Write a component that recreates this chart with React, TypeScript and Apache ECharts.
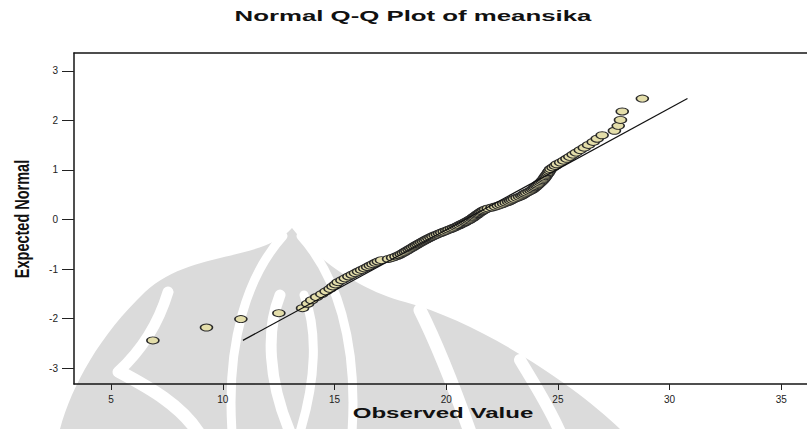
import React, { useEffect, useRef } from "react";
import * as echarts from "echarts";

const observedValues = [
  6.87, 9.27, 10.81, 12.51, 13.57, 13.8, 13.98, 14.2, 14.43, 14.62,
  14.8, 14.93, 15.05, 15.16, 15.33, 15.48, 15.64, 15.79, 15.93, 16.07,
  16.21, 16.35, 16.48, 16.6, 16.72, 16.84, 16.96, 17.1, 17.42, 17.6,
  17.75, 17.88, 17.98, 18.07, 18.16, 18.24, 18.33, 18.41, 18.49, 18.57,
  18.65, 18.73, 18.81, 18.89, 18.97, 19.05, 19.13, 19.22, 19.31, 19.4,
  19.5, 19.6, 19.7, 19.8, 19.91, 20.02, 20.12, 20.23, 20.33, 20.43,
  20.52, 20.6, 20.69, 20.77, 20.85, 20.92, 21.0, 21.07, 21.14, 21.2,
  21.25, 21.31, 21.37, 21.42, 21.48, 21.54, 21.6, 21.68, 21.76, 21.88,
  22.05, 22.2, 22.33, 22.45, 22.57, 22.68, 22.79, 22.88, 22.96, 23.05,
  23.17, 23.28, 23.38, 23.45, 23.52, 23.6, 23.7, 23.79, 23.87, 23.93,
  23.99, 24.05, 24.1, 24.16, 24.22, 24.28, 24.33, 24.38, 24.42, 24.46,
  24.5, 24.55, 24.59, 24.63, 24.68, 24.78, 24.88, 24.96, 25.12, 25.26,
  25.4, 25.53, 25.68, 25.82, 26.0, 26.18, 26.37, 26.58, 26.76, 26.98,
  27.53, 27.7, 27.8, 27.88, 28.78,
];

// Expected normal values
const expectedNormal = [
  -2.44, -2.18, -2.01, -1.89, -1.79, -1.7, -1.63, -1.565, -1.505, -1.45,
  -1.4, -1.35, -1.31, -1.265, -1.225, -1.187, -1.15, -1.115, -1.082, -1.05,
  -1.018, -0.987, -0.958, -0.929, -0.901, -0.874, -0.847, -0.821, -0.795, -0.77,
  -0.745, -0.721, -0.698, -0.674, -0.651, -0.629, -0.606, -0.584, -0.563, -0.541,
  -0.52, -0.499, -0.478, -0.458, -0.438, -0.417, -0.398, -0.378, -0.358, -0.339,
  -0.319, -0.3, -0.281, -0.262, -0.243, -0.224, -0.205, -0.186, -0.167, -0.148,
  -0.129, -0.111, -0.092, -0.074, -0.055, -0.037, -0.018, 0, 0.018, 0.037,
  0.055, 0.074, 0.092, 0.111, 0.129, 0.148, 0.167, 0.186, 0.205, 0.224,
  0.243, 0.262, 0.281, 0.3, 0.319, 0.339, 0.358, 0.378, 0.398, 0.417,
  0.438, 0.458, 0.478, 0.499, 0.52, 0.541, 0.563, 0.584, 0.606, 0.629,
  0.651, 0.674, 0.698, 0.721, 0.745, 0.77, 0.795, 0.821, 0.847, 0.874,
  0.901, 0.929, 0.958, 0.987, 1.018, 1.05, 1.082, 1.115, 1.15, 1.187,
  1.225, 1.265, 1.31, 1.35, 1.4, 1.45, 1.505, 1.565, 1.63, 1.7,
  1.79, 1.89, 2.01, 2.18, 2.44,
];

// Reference line end points
const refLineX = [10.9, 30.8];
const refLineY = [-2.44, 2.44];

const xTicks = [5, 10, 15, 20, 25, 30, 35];
const yTicks = [-3, -2, -1, 0, 1, 2, 3];

const titleText = "Normal Q-Q Plot of meansika";
const xName = "Observed Value";
const yName = "Expected Normal";

// Background watermark (decorative) outline
const WATERMARK_D =
  "M292,228 C262,262 190,250 145,292 C100,335 72,385 60,429 L620,429 C575,385 480,322 405,302 C365,292 318,262 292,228 Z";

let registered = false;
function registerShapes() {
  if (registered) return;
  echarts.graphic.registerShape(
    "wmBase",
    echarts.graphic.extendPath(WATERMARK_D, {})
  );
  registered = true;
}

function whiteCurve(
  x1: number, y1: number, c1x: number, c1y: number,
  c2x: number, c2y: number, x2: number, y2: number, lw: number
) {
  return {
    type: "bezierCurve",
    z: -9,
    silent: true,
    shape: { x1, y1, cpx1: c1x, cpy1: c1y, cpx2: c2x, cpy2: c2y, x2, y2 },
    style: { stroke: "#ffffff", lineWidth: lw, fill: null, lineCap: "round" },
  };
}

export default function App() {
  const ref = useRef<HTMLDivElement>(null);
  useEffect(() => {
    if (!ref.current) return;
    registerShapes();
    const chart = echarts.init(ref.current, null, { renderer: "svg" });
    const points = observedValues.map((v, i) => [v, expectedNormal[i]]);
    const line = refLineX.map((v, i) => [v, refLineY[i]]);
    const xMin = 3.34;
    const xMax = 36.15;
    chart.setOption({
      animation: false,
      backgroundColor: "#ffffff",
      grid: {
        left: 74,
        top: 53,
        bottom: 45,
        right: 0,
        show: false,
      },
      xAxis: [
        {
          type: "value",
          min: xMin,
          max: xMax,
          axisLine: {
            show: true,
            onZero: false,
            lineStyle: { color: "#151515", width: 1.5 },
          },
          axisTick: {
            show: true,
            inside: false,
            length: 6,
            customValues: xTicks,
            lineStyle: { color: "#222", width: 1 },
          },
          axisLabel: {
            customValues: xTicks,
            margin: 10,
            fontSize: 10,
            fontFamily: "Liberation Sans",
            color: "#222",
          },
          splitLine: { show: false },
        },
        {
          type: "value",
          position: "top",
          min: xMin,
          max: xMax,
          axisLine: {
            show: true,
            onZero: false,
            lineStyle: { color: "#151515", width: 1.5 },
          },
          axisTick: { show: false },
          axisLabel: { show: false },
          splitLine: { show: false },
        },
      ],
      yAxis: {
        type: "value",
        min: -3.32,
        max: 3.36,
        axisLine: {
          show: true,
          onZero: false,
          lineStyle: { color: "#151515", width: 1.5 },
        },
        axisTick: {
          show: true,
          inside: false,
          length: 12,
          customValues: yTicks,
          lineStyle: { color: "#222", width: 1 },
        },
        axisLabel: {
          customValues: yTicks,
          margin: 16,
          fontSize: 10,
          fontFamily: "Liberation Sans",
          color: "#222",
        },
        splitLine: { show: false },
      },
      graphic: [
        {
          type: "wmBase",
          x: 0,
          y: 0,
          z: -10,
          silent: true,
          style: { fill: "#dbdbdb" },
        },
        whiteCurve(168, 292, 158, 325, 142, 350, 118, 372, 11),
        whiteCurve(120, 372, 150, 388, 180, 405, 198, 432, 13),
        whiteCurve(283, 236, 248, 275, 226, 340, 232, 432, 9),
        whiteCurve(301, 236, 336, 275, 358, 340, 352, 432, 9),
        whiteCurve(280, 295, 266, 330, 268, 380, 290, 432, 11),
        whiteCurve(304, 295, 318, 330, 316, 380, 300, 432, 9),
        whiteCurve(420, 310, 440, 350, 455, 390, 470, 432, 13),
        whiteCurve(520, 360, 535, 385, 548, 405, 560, 432, 12),
        {
          type: "text",
          x: 413,
          y: 16,
          scaleX: 1.72,
          style: {
            text: titleText,
            fontSize: 15,
            fontWeight: "bold",
            fontFamily: "Liberation Sans",
            fill: "#111",
            align: "center",
            verticalAlign: "middle",
          },
        },
        {
          type: "text",
          x: 443,
          y: 413,
          scaleX: 1.72,
          style: {
            text: xName,
            fontSize: 14,
            fontWeight: "bold",
            fontFamily: "Liberation Sans",
            fill: "#111",
            align: "center",
            verticalAlign: "middle",
          },
        },
        {
          type: "text",
          x: 22,
          y: 219,
          rotation: Math.PI / 2,
          scaleY: 1.45,
          style: {
            text: yName,
            fontSize: 14.5,
            fontWeight: "bold",
            fontFamily: "Liberation Sans",
            fill: "#111",
            align: "center",
            verticalAlign: "middle",
          },
        },
      ],
      series: [
        {
          type: "line",
          data: line,
          symbol: "none",
          lineStyle: { color: "#111", width: 1.2 },
          silent: true,
        },
        {
          type: "scatter",
          data: points,
          symbol: "circle",
          symbolSize: [12, 7],
          itemStyle: {
            color: "#e4deaa",
            borderColor: "#2a2a2a",
            borderWidth: 1.2,
            opacity: 1,
          },
        },
      ],
    });
    return () => chart.dispose();
  }, []);
  return (
    <div
      ref={ref}
      style={{ position: "absolute", left: 0, top: 0, width: 807, height: 429 }}
    />
  );
}
